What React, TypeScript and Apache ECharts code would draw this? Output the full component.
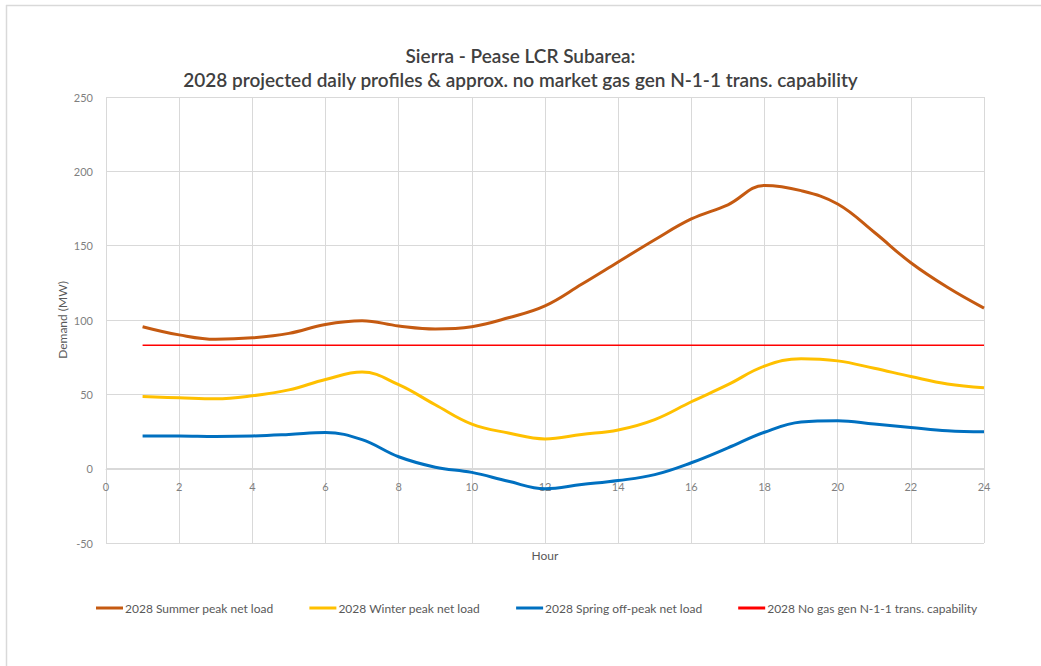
import React, { useEffect, useRef } from "react";
import * as echarts from "echarts";

const hours = [1, 2, 3, 4, 5, 6, 7, 8, 9, 10, 11, 12, 13, 14, 15, 16, 17, 18, 19, 20, 21, 22, 23, 24];
const summer = [95.5, 90, 87, 88, 91, 97, 99.5, 96, 94, 95.5, 101.5, 109.5, 124, 139, 154, 168, 177.5, 190.5, 187, 178, 159, 138.5, 122, 108];
const winter = [48.5, 47.7, 47, 49, 53, 60, 65, 56.5, 43, 30, 24, 20, 23, 26, 33, 45, 56.5, 69, 74, 72.5, 67.5, 62, 57, 54.5];
const spring = [22, 22, 21.7, 22, 23, 24.3, 19.5, 8, 1, -2.5, -8.5, -13.5, -10.7, -8, -4, 4, 14, 24.5, 31.4, 32.3, 30, 27.7, 25.5, 24.8];
const capability = [83, 83, 83, 83, 83, 83, 83, 83, 83, 83, 83, 83, 83, 83, 83, 83, 83, 83, 83, 83, 83, 83, 83, 83];
const seriesNames = [
  "2028 Summer peak net load",
  "2028 Winter peak net load",
  "2028 Spring off-peak net load",
  "2028 No gas gen N-1-1 trans. capability",
];
const titleText = "Sierra - Pease LCR Subarea:\n2028 projected daily profiles & approx. no market gas gen N-1-1 trans. capability";

const FONT = "Lato, 'Noto Sans', sans-serif";

export default function App() {
  const ref = useRef<HTMLDivElement>(null);
  useEffect(() => {
    if (!ref.current) return;
    const chart = echarts.init(ref.current, undefined, { renderer: "svg" });
    const mk = (d: number[]) => hours.map((h, i) => [h, d[i]]);
    const colors = ["#C55A11", "#FFC000", "#0070C0", "#FF0000"];
    const datas = [summer, winter, spring, capability];
    chart.setOption({
      animation: false,
      backgroundColor: "#ffffff",
      textStyle: { fontFamily: FONT },
      title: {
        text: titleText,
        left: "center",
        top: 38,
        textStyle: { fontFamily: FONT, fontSize: 19, fontWeight: 600, color: "#404040", lineHeight: 24 },
      },
      graphic: [
        {
          type: "line",
          shape: { x1: 6, y1: 5.5, x2: 1041, y2: 5.5 },
          style: { stroke: "#d9d9d9", lineWidth: 1.5 },
          silent: true,
        },
        {
          type: "line",
          shape: { x1: 6.5, y1: 5, x2: 6.5, y2: 666 },
          style: { stroke: "#d9d9d9", lineWidth: 1.5 },
          silent: true,
        },
      ],
      legend: {
        bottom: 47,
        left: 91,
        itemGap: 36,
        itemWidth: 27,
        itemHeight: 3,
        textStyle: { fontFamily: FONT, fontSize: 12, color: "#595959", padding: [0, 0, 0, -3] },
        data: seriesNames.map((n, i) => ({ name: n, icon: "rect", itemStyle: { color: colors[i] } })),
      },
      grid: { left: 106, right: 57, top: 97, bottom: 123 },
      xAxis: {
        type: "value",
        min: 0,
        max: 24,
        interval: 2,
        position: "bottom",
        offset: -74,
        name: "Hour",
        nameLocation: "middle",
        nameGap: 80,
        nameMoveOverlap: false,
        nameTextStyle: { fontFamily: FONT, fontSize: 12, color: "#595959" },
        axisLine: { show: true, onZero: false, lineStyle: { color: "#d9d9d9" } },
        axisTick: { show: false },
        axisLabel: { fontFamily: FONT, fontSize: 11, color: "#7f7f7f", margin: 12 },
        splitLine: { show: true, lineStyle: { color: "#d9d9d9", width: 1 } },
      },
      yAxis: {
        type: "value",
        min: -50,
        max: 250,
        interval: 50,
        name: "Demand (MW)",
        nameLocation: "middle",
        nameGap: 38,
        nameMoveOverlap: false,
        nameTextStyle: { fontFamily: FONT, fontSize: 12, color: "#595959" },
        axisLine: { show: false },
        axisTick: { show: false },
        axisLabel: { fontFamily: FONT, fontSize: 11, color: "#7f7f7f", margin: 13 },
        splitLine: { show: true, lineStyle: { color: "#d9d9d9", width: 1 } },
      },
      series: datas.map((d, i) => ({
        name: seriesNames[i],
        type: "line",
        data: mk(d),
        smooth: i < 3 ? 0.4 : false,
        showSymbol: false,
        symbol: "none",
        color: colors[i],
        lineStyle: { color: colors[i], width: i < 3 ? 3 : 1.5 },
      })),
    });
    return () => chart.dispose();
  }, []);
  return <div ref={ref} style={{ position: "fixed", left: 0, top: 0, width: 1041, height: 666 }} />;
}
